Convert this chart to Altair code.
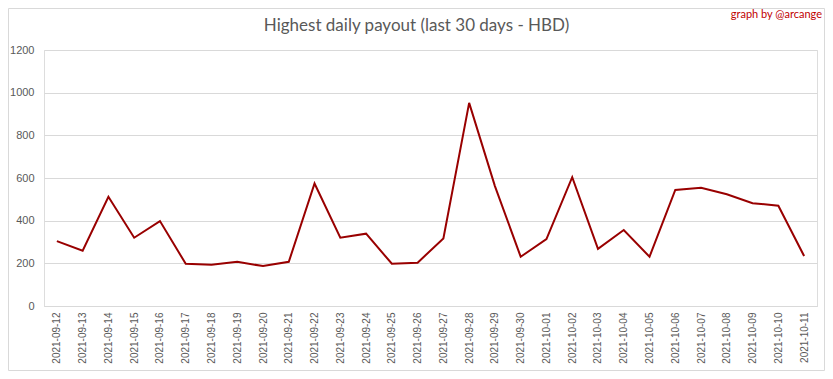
import altair as alt
import pandas as pd

dates = ["2021-09-12", "2021-09-13", "2021-09-14", "2021-09-15", "2021-09-16",
         "2021-09-17", "2021-09-18", "2021-09-19", "2021-09-20", "2021-09-21",
         "2021-09-22", "2021-09-23", "2021-09-24", "2021-09-25", "2021-09-26",
         "2021-09-27", "2021-09-28", "2021-09-29", "2021-09-30", "2021-10-01",
         "2021-10-02", "2021-10-03", "2021-10-04", "2021-10-05", "2021-10-06",
         "2021-10-07", "2021-10-08", "2021-10-09", "2021-10-10", "2021-10-11"]
payout = [304, 259, 512, 320, 398, 198, 193, 207, 187, 207,
          574, 320, 339, 198, 203, 317, 952, 562, 231, 314,
          604, 268, 356, 231, 544, 554, 524, 482, 470, 234]
y_ticks = [0, 200, 400, 600, 800, 1000, 1200]
title_text = "Highest daily payout (last 30 days - HBD)"
credit_text = "graph by @arcange"

df = pd.DataFrame({"date": dates, "payout": payout})

W, H = 773, 256
PL, PT, PR, PB = 36, 42, 8, 65

line = alt.Chart(df).mark_line(color="#990000", strokeWidth=2).encode(
    x=alt.X("date:O", sort=dates, title=None,
            axis=alt.Axis(labelAngle=-90, labelFontSize=10, labelColor="#595959",
                          labelFont="Liberation Sans", ticks=False, domain=True,
                          domainColor="#d9d9d9", labelPadding=6, grid=False)),
    y=alt.Y("payout:Q", title=None,
            scale=alt.Scale(domain=[0, 1200], nice=False),
            axis=alt.Axis(values=y_ticks, format="d", labelFontSize=11, labelColor="#595959",
                          labelFont="Liberation Sans", ticks=False, domain=False,
                          gridColor="#d9d9d9", gridWidth=1, labelPadding=10)),
)

credit = alt.Chart(pd.DataFrame({"t": [credit_text]})).mark_text(
    color="#c00000", fontSize=11, font="Lato", align="right", baseline="middle"
).encode(text="t:N", x=alt.value(W + 5), y=alt.value(-35))

title = alt.Chart(pd.DataFrame({"t": [title_text]})).mark_text(
    color="#595959", fontSize=17, font="Lato", align="center", baseline="middle"
).encode(text="t:N", x=alt.value(W / 2 - 14), y=alt.value(-24))

border = alt.Chart(pd.DataFrame({"a": [0]})).mark_rect(
    fill=None, stroke="#d9d9d9", strokeWidth=1
).encode(x=alt.value(-PL + 0.5), x2=alt.value(W + PR - 0.5),
         y=alt.value(-PT + 0.5), y2=alt.value(H + PB - 0.5))

chart = alt.layer(border, line, title, credit).properties(
    width=W, height=H,
    autosize=alt.AutoSizeParams(type="none"),
    padding={"left": PL, "top": PT, "right": PR, "bottom": PB},
).configure_view(stroke=None).configure(background="white")

chart.save("out.html", embed_options={"renderer": "svg", "actions": False})
